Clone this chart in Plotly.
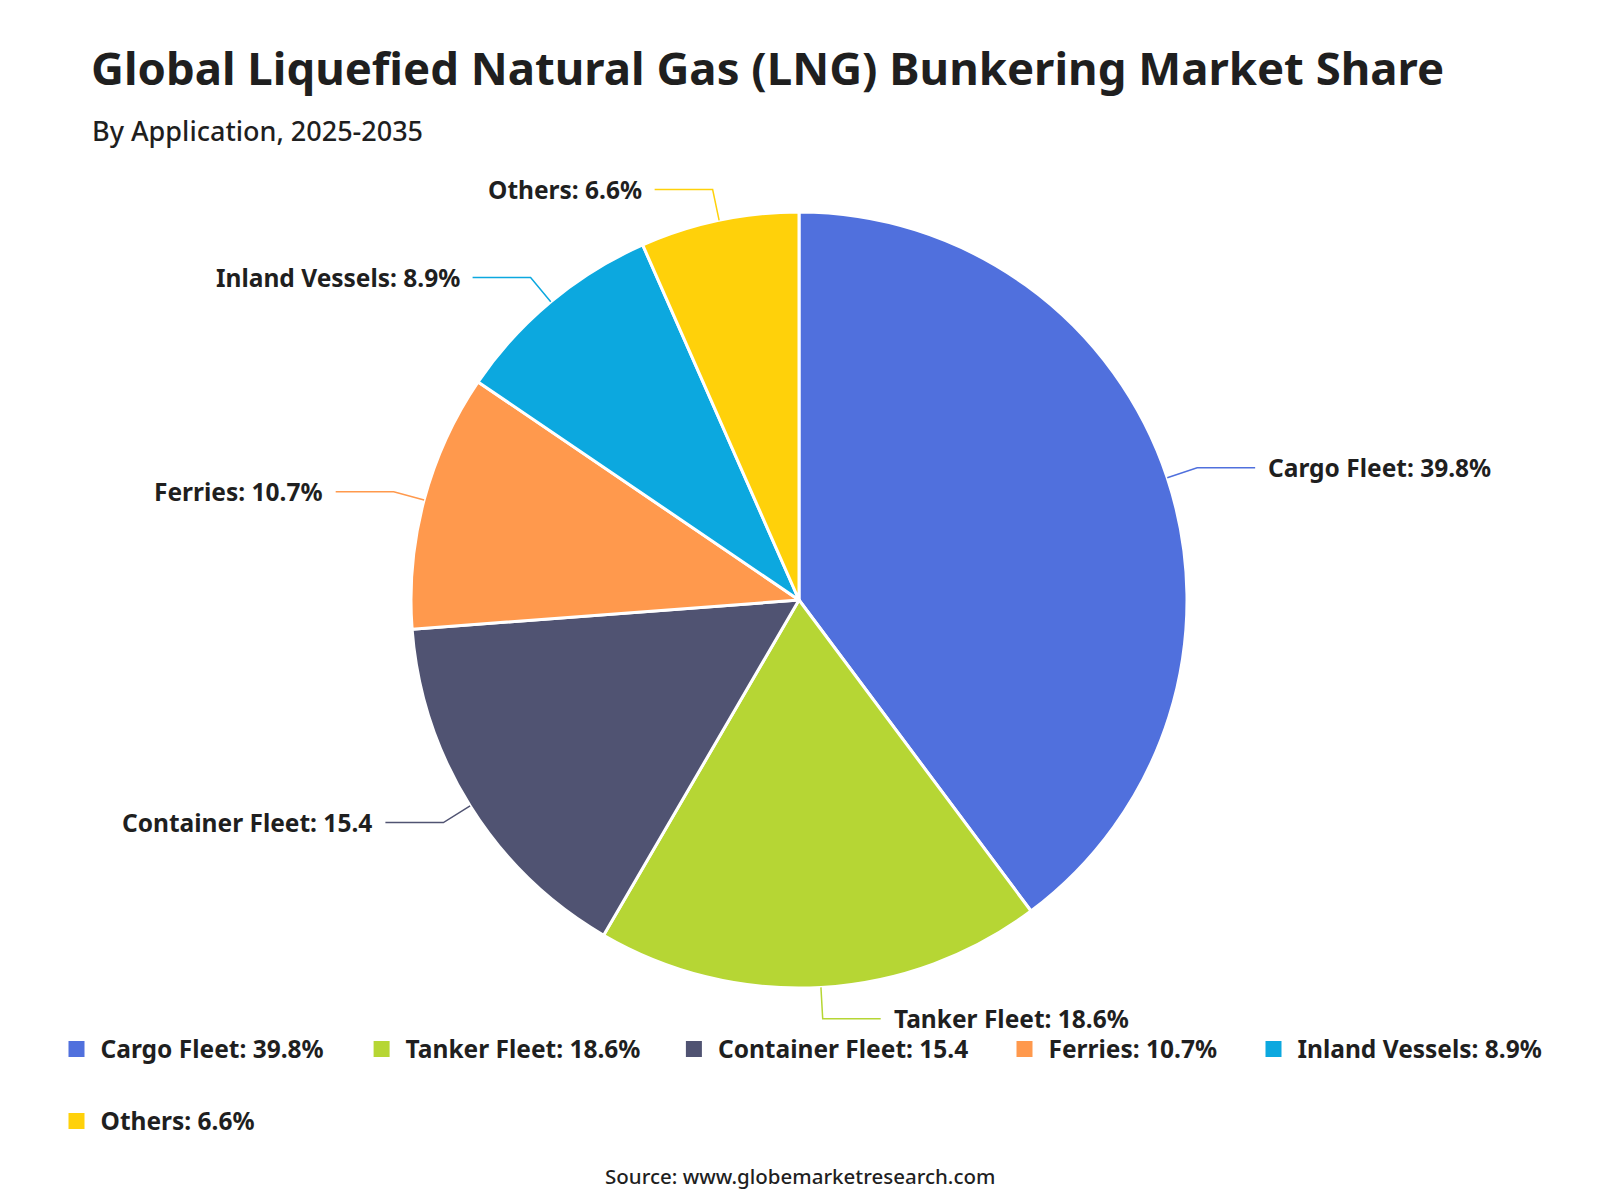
import math
import plotly.graph_objects as go

categories = ["Cargo Fleet", "Tanker Fleet", "Container Fleet", "Ferries", "Inland Vessels", "Others"]
values = [39.8, 18.6, 15.4, 10.7, 8.9, 6.6]
label_texts = ["Cargo Fleet: 39.8%", "Tanker Fleet: 18.6%", "Container Fleet: 15.4",
               "Ferries: 10.7%", "Inland Vessels: 8.9%", "Others: 6.6%"]
colors = ["#5070dd", "#b6d634", "#505372", "#ff994d", "#0ca8df", "#ffd10a"]

W, H = 1600, 1200
CX, CY, R = 799, 600, 388
L1, L2, GAP = 31.5, 58, 11
FONT = "Noto Sans"
TXT = "#1f1f1f"
LABEL_SIZE = 24.5

fig = go.Figure()
fig.add_trace(go.Pie(
    labels=categories, values=values, sort=False, direction="clockwise", rotation=0,
    marker=dict(colors=colors, line=dict(color="white", width=3)),
    textinfo="none", showlegend=False, hoverinfo="label+percent",
    domain=dict(x=[(CX - R) / W, (CX + R) / W], y=[1 - (CY + R) / H, 1 - (CY - R) / H]),
))

def px(x):
    return x / W

def py(y):
    return 1 - y / H

total = sum(values)
cum = 0.0
shapes = []
annotations = []
for cat, v, txt, col in zip(categories, values, label_texts, colors):
    mid = (cum + v / 2) / total * 2 * math.pi
    cum += v
    sx, sy = math.sin(mid), -math.cos(mid)
    x0, y0 = CX + R * sx, CY + R * sy
    x1, y1 = CX + (R + L1) * sx, CY + (R + L1) * sy
    side = 1 if sx >= 0 else -1
    x2, y2 = x1 + side * L2, y1
    shapes.append(dict(type="path", xref="paper", yref="paper",
                       path=f"M {px(x0)},{py(y0)} L {px(x1)},{py(y1)} L {px(x2)},{py(y2)}",
                       line=dict(color=col, width=1.5)))
    annotations.append(dict(text=f"<b>{txt}</b>", x=px(x2 + side * GAP), y=py(y2),
                            xref="paper", yref="paper", showarrow=False,
                            xanchor="left" if side > 0 else "right", yanchor="middle",
                            font=dict(family=FONT, size=LABEL_SIZE, color=TXT)))

# legend entries: one legend per entry so spacing matches the reference
legend_x = [76.5, 381.6, 693.9, 1024.5, 1273.5, 76.5]
legend_y = [1049, 1049, 1049, 1049, 1049, 1121]
SYM_OFF = 24
leg_layout = {}
for i, (txt, col) in enumerate(zip(label_texts, colors)):
    name = "legend" if i == 0 else f"legend{i + 1}"
    fig.add_trace(go.Scatter(
        x=[None], y=[None], mode="markers", name=f"<b>{txt}</b>",
        marker=dict(symbol="square", size=22, color=col),
        legend=name, hoverinfo="skip",
    ))
    leg_layout[name] = dict(x=px(legend_x[i] - SYM_OFF), y=py(legend_y[i]),
                            orientation="h", font=dict(family=FONT, size=LABEL_SIZE, color=TXT),
                            xanchor="left", yanchor="middle", bgcolor="rgba(0,0,0,0)",
                            itemsizing="trace", itemwidth=38)

annotations.append(dict(text="By Application, 2025-2035", x=px(90), y=py(130.5),
                        xref="paper", yref="paper", showarrow=False, xanchor="left", yanchor="middle",
                        font=dict(family=FONT, size=27, color=TXT, weight=500)))
annotations.append(dict(text="Source: www.globemarketresearch.com", x=0.5, y=py(1176),
                        xref="paper", yref="paper", showarrow=False, xanchor="center", yanchor="middle",
                        font=dict(family=FONT, size=20.5, color=TXT, weight=500)))

fig.update_layout(
    width=W, height=H,
    margin=dict(l=0, r=0, t=0, b=0),
    paper_bgcolor="white", plot_bgcolor="white",
    title=dict(text="<b>Global Liquefied Natural Gas (LNG) Bunkering Market Share</b>",
               x=px(91), xanchor="left", xref="paper",
               y=py(69), yref="container", yanchor="middle",
               font=dict(family=FONT, size=45.5, color=TXT)),
    xaxis=dict(visible=False), yaxis=dict(visible=False),
    shapes=shapes, annotations=annotations,
    **leg_layout,
)

fig.write_html("out.html")
